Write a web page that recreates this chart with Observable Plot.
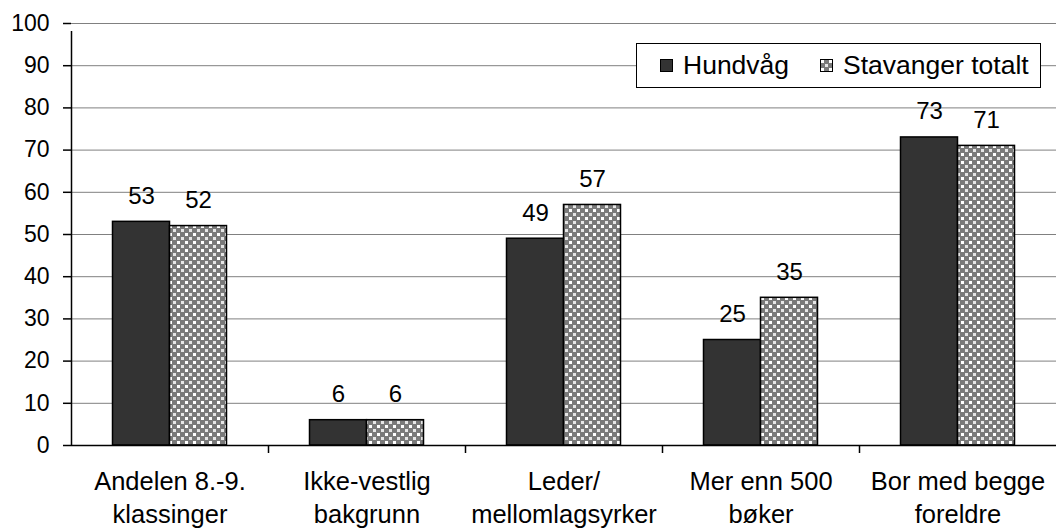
<!DOCTYPE html>
<html>
<head>
<meta charset="utf-8">
<script src="https://cdn.jsdelivr.net/npm/d3@7"></script>
<script src="https://cdn.jsdelivr.net/npm/@observablehq/plot@0.6"></script>
<style>
  html, body { margin: 0; padding: 0; background: #fff; }
  #wrap { position: relative; width: 1056px; height: 529px; font-family: "Liberation Sans", Arial, sans-serif; }
  #legend { position: absolute; left: 636px; top: 43px; width: 403px; height: 43px; border: 1px solid #000; background: #fff;
    display: flex; align-items: center; font-size: 26.5px; color: #000; }
  .item { display: flex; align-items: center; }
  .sw { width: 13px; height: 13px; border: 1px solid #000; margin-right: 10px; box-sizing: border-box; }
</style>
</head>
<body>
<div id="wrap"></div>
<script>
const categories = ["Andelen 8.-9.\nklassinger", "Ikke-vestlig\nbakgrunn", "Leder/\nmellomlagsyrker", "Mer enn 500\nbøker", "Bor med begge\nforeldre"];
const seriesNames = ["Hundvåg", "Stavanger totalt"];
const hundvag = [53, 6, 49, 25, 73];
const stavanger = [52, 6, 57, 35, 71];
const yTicks = [0, 10, 20, 30, 40, 50, 60, 70, 80, 90, 100];

const W = 1056, H = 529;
const mL = 71, mR = 0, mT = 23, mB = 84;
const band = (W - mL - mR) / categories.length;
const half = band / 2;
const barW = 57;

const rows = [];
categories.forEach((c, i) => {
  rows.push({cat: c, series: seriesNames[0], value: hundvag[i]});
  rows.push({cat: c, series: seriesNames[1], value: stavanger[i]});
});
const H_rows = rows.filter(d => d.series === seriesNames[0]);
const S_rows = rows.filter(d => d.series === seriesNames[1]);

const chart = Plot.plot({
  width: W, height: H,
  marginLeft: mL, marginRight: mR, marginTop: mT, marginBottom: mB,
  style: {fontFamily: "'Liberation Sans', Arial, sans-serif", fontSize: "22px", color: "#000", background: "#fff"},
  x: {type: "band", domain: categories, padding: 0, label: null},
  y: {domain: [0, 100], label: null},
  marks: [
    Plot.gridY(yTicks, {stroke: "#808080", strokeOpacity: 1, strokeWidth: 1}),
    Plot.barY(H_rows, {x: "cat", y: "value", fill: "#333333", stroke: "#000", strokeWidth: 1.5,
      insetLeft: half - barW, insetRight: half}),
    Plot.barY(S_rows, {x: "cat", y: "value", fill: "url(#dots)", stroke: "#000", strokeWidth: 1.5,
      insetLeft: half, insetRight: half - barW}),
    Plot.text(H_rows, {x: "cat", y: "value", text: d => String(d.value), dx: -barW / 2, dy: -18, lineAnchor: "bottom", fontSize: 24, fill: "#000"}),
    Plot.text(S_rows, {x: "cat", y: "value", text: d => String(d.value), dx: barW / 2, dy: -18, lineAnchor: "bottom", fontSize: 24, fill: "#000"}),
    Plot.ruleY([0], {stroke: "#000", strokeWidth: 1.5}),
    Plot.ruleX(categories.slice(1), {y1: 0, y2: 0, dx: -half, insetBottom: -8, stroke: "#000", strokeWidth: 1.5}),
    Plot.ruleX([categories[0]], {y1: 0, y2: 100, dx: -half, insetBottom: -8, stroke: "#000", strokeWidth: 1.5}),
    Plot.axisY(yTicks, {tickSize: 8, tickPadding: 14, fontSize: 23, stroke: "#000", strokeWidth: 1.5, label: null}),
    Plot.axisX({tickSize: 0, tickPadding: 21, fontSize: 25.5, lineHeight: 1.3, label: null})
  ]
});

// pattern defs
const ns = "http://www.w3.org/2000/svg";
function addPattern(svg) {
  const defs = document.createElementNS(ns, "defs");
  defs.innerHTML = `<pattern id="dots" patternUnits="userSpaceOnUse" width="8" height="8">
      <rect width="8" height="8" fill="#7a7a7a"/>
      <rect x="1" y="1" width="3" height="3" fill="#ffffff"/>
      <rect x="5" y="5" width="3" height="3" fill="#e6e6e6"/>
    </pattern>`;
  svg.insertBefore(defs, svg.firstChild);
}
addPattern(chart);

const wrap = document.getElementById("wrap");
wrap.appendChild(chart);

const legend = document.createElement("div");
legend.id = "legend";
const sw1 = `<div class="sw" style="background:#333333"></div>`;
const sw2 = `<svg class="sw" width="13" height="13" style="border:none;overflow:visible"><rect x="0.5" y="0.5" width="12" height="12" fill="url(#dots)" stroke="#000"/></svg>`;
legend.innerHTML = `<div class="item" style="margin-left:23px">${sw1}<span>${seriesNames[0]}</span></div>` +
  `<div class="item" style="margin-left:31px">${sw2}<span>${seriesNames[1]}</span></div>`;
wrap.appendChild(legend);
</script>
</body>
</html>
